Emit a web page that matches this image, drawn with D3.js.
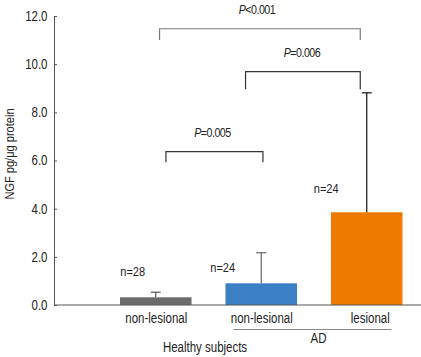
<!DOCTYPE html>
<html>
<head>
<meta charset="utf-8">
<script src="https://cdn.jsdelivr.net/npm/d3@7"></script>
<style>
  body { margin: 0; background: #fff; }
  text { font-family: "Liberation Sans", Arial, sans-serif; fill: #222; }
</style>
</head>
<body>
<div class="svg_container"></div>
<script>
// data
var barIds = ["healthy-nl", "ad-nl", "ad-l"];
var barLabels = ["non-lesional", "non-lesional", "lesional"];
var means = [0.32, 0.9, 3.85];
var sds = [0.21, 1.27, 4.96];
var nValues = [28, 24, 24];
var yTicks = [0, 2, 4, 6, 8, 10, 12];
var brackets = [
    {from: 0, to: 2, level: 11.0, top: 11.47, label: "<0.001"},
    {from: 1, to: 2, level: 8.96, top: 9.69, label: "=0.006"},
    {from: 0, to: 1, level: 5.93, top: 6.37, label: "=0.005"}
];

const WIDTH = 421;
const HEIGHT = 357;
const AXIS_X = 54;
const BASE_Y = 305;
const TOP_Y = 16;
const NARROW = 0.82; // Arial Narrow look: squeeze Liberation Sans

var barColors = ["#6b6b6b", "#3a7ec4", "#ef7a00"];
var errColors = ["#555", "#666", "#111"];
var bracketColors = ["#777", "#333", "#333"];
var bracketDx = [[3.8, -6.5], [-15.7, -6.5], [10.2, 1.7]];
var nOffsets = [[-35.5, 21.3], [-51, 11.6], [-53, 19.6]];

var translate = function (x, y) {
    return "translate(" + x + "," + y + ")";
};

// condensed text placed at (x, y)
var narrowText = function (parent, x, y, str, size, anchor) {
    return parent.append('text')
        .attr('transform', translate(x, y) + ' scale(' + NARROW + ',1)')
        .attr('text-anchor', anchor || 'start')
        .attr('font-size', size)
        .text(str);
};

var svg = d3.select('.svg_container').append('svg')
    .attr('width', WIDTH)
    .attr('height', HEIGHT);

var x = d3.scaleBand()
    .domain(barIds)
    .range([103, 419.5])
    .paddingInner(0.322)
    .paddingOuter(0.161);

var y = d3.scaleLinear()
    .domain([0, 12])
    .range([BASE_Y, TOP_Y]);

var cx = function (i) {
    return x(barIds[i]) + x.bandwidth() / 2;
};

// y axis
var yAxis = d3.axisLeft(y)
    .tickValues(yTicks)
    .tickFormat(d3.format(".1f"))
    .tickSizeInner(-3)
    .tickSizeOuter(0)
    .tickPadding(6);

var gy = svg.append('g')
    .attr('transform', translate(AXIS_X, 0))
    .call(yAxis);
gy.select('.domain').attr('stroke', '#555');
gy.selectAll('.tick line').attr('stroke', '#555');
gy.selectAll('.tick text')
    .attr('x', -6.5 / NARROW)
    .attr('transform', 'scale(' + NARROW + ',1)')
    .attr('font-size', 14)
    .attr('font-family', null)
    .attr('fill', '#222');

svg.append('text')
    .attr('transform', translate(13.5, 154) + ' rotate(-90) scale(' + NARROW + ',1)')
    .attr('text-anchor', 'middle')
    .attr('font-size', 13.5)
    .text('NGF pg/\u03bcg protein');

// bars
svg.append('g').selectAll('rect')
    .data(means)
    .enter().append('rect')
    .attr('x', function (d, i) { return x(barIds[i]); })
    .attr('y', function (d) { return y(d); })
    .attr('width', x.bandwidth())
    .attr('height', function (d) { return y(0) - y(d); })
    .attr('fill', function (d, i) { return barColors[i]; });

// error bars (upper only)
var err = svg.append('g').selectAll('g')
    .data(means)
    .enter().append('g');
err.append('line')
    .attr('x1', function (d, i) { return cx(i); })
    .attr('x2', function (d, i) { return cx(i); })
    .attr('y1', function (d) { return y(d); })
    .attr('y2', function (d, i) { return y(d + sds[i]); })
    .attr('stroke', function (d, i) { return errColors[i]; })
    .attr('stroke-width', 1.2);
err.append('line')
    .attr('x1', function (d, i) { return cx(i) - 5; })
    .attr('x2', function (d, i) { return cx(i) + 5; })
    .attr('y1', function (d, i) { return y(d + sds[i]); })
    .attr('y2', function (d, i) { return y(d + sds[i]); })
    .attr('stroke', function (d, i) { return errColors[i]; })
    .attr('stroke-width', 1.2);

// x baseline
svg.append('line')
    .attr('x1', AXIS_X).attr('x2', WIDTH)
    .attr('y1', BASE_Y).attr('y2', BASE_Y)
    .attr('stroke', '#555');

// n labels
var nl = svg.append('g');
nValues.forEach(function (n, i) {
    narrowText(nl, cx(i) + nOffsets[i][0], y(means[i]) - nOffsets[i][1], 'n=' + n, 13.5);
});

// category labels
var cl = svg.append('g');
barLabels.forEach(function (lab, i) {
    narrowText(cl, cx(i) + (i === 2 ? 3.5 : 0.5), 323, lab, 14, 'middle');
});

// AD group line and labels
svg.append('line')
    .attr('x1', x(barIds[1]) + 8).attr('x2', x(barIds[2]) + x.bandwidth() - 11)
    .attr('y1', 329.5).attr('y2', 329.5)
    .attr('stroke', '#888');
narrowText(svg, (cx(1) + cx(2)) / 2 + 4.5, 343, 'AD', 14, 'middle');
narrowText(svg, 205, 352, 'Healthy subjects', 14, 'middle');

// significance brackets
var bg = svg.append('g').selectAll('g')
    .data(brackets)
    .enter().append('g');
bg.append('path')
    .attr('d', function (d, i) {
        var x1 = cx(d.from) + bracketDx[i][0];
        var x2 = cx(d.to) + bracketDx[i][1];
        return 'M' + x1 + ',' + y(d.level) + 'V' + y(d.top) + 'H' + x2 + 'V' + y(d.level);
    })
    .attr('fill', 'none')
    .attr('stroke', function (d, i) { return bracketColors[i]; })
    .attr('stroke-width', 1.2);
var pt = bg.append('text')
    .attr('transform', function (d, i) {
        var mx = (cx(d.from) + bracketDx[i][0] + cx(d.to) + bracketDx[i][1]) / 2 + (i === 0 ? -3 : (i === 1 ? -1 : -2));
        return translate(mx, y(d.top) - 14.5) + ' scale(' + NARROW + ',1)';
    })
    .attr('text-anchor', 'middle')
    .attr('font-size', 13)
    .attr('letter-spacing', -0.6);
pt.append('tspan').attr('font-style', 'italic').text('P');
pt.append('tspan').text(function (d) { return d.label; });
</script>
</body>
</html>
